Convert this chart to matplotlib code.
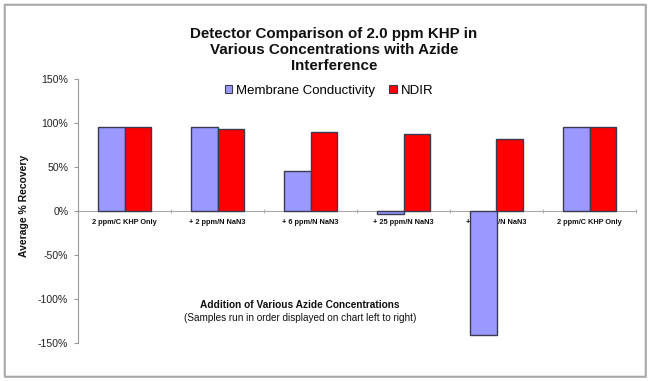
import matplotlib
matplotlib.use("Agg")
import matplotlib.pyplot as plt
from matplotlib.patches import Rectangle, Patch
from matplotlib.ticker import PercentFormatter, FixedLocator
import numpy as np

plt.rcParams['font.family'] = ['Liberation Sans', 'DejaVu Sans']
plt.rcParams['axes.unicode_minus'] = False

categories = ["2 ppm/C KHP Only", "+ 2 ppm/N NaN3", "+ 6 ppm/N NaN3",
              "+ 25 ppm/N NaN3", "+ 50 ppm/N NaN3", "2 ppm/C KHP Only"]
membrane = [95, 95, 46, -3, -141, 96]
ndir = [96, 93, 90, 88, 82, 95]
yticks = [-150, -100, -50, 0, 50, 100, 150]
title_lines = ["Detector Comparison of 2.0 ppm KHP in",
               "Various Concentrations with Azide",
               "Interference"]

W, H = 650, 381
fig = plt.figure(figsize=(W / 100, H / 100), dpi=100)

# outer frame with slight shadow
fig.add_artist(Rectangle((5 / W, 1 - 377 / H), 641 / W, 372 / H, transform=fig.transFigure,
                         facecolor='none', edgecolor='#b0b0b0', lw=1.2))
fig.add_artist(Rectangle((4 / W, 1 - 376 / H), 641 / W, 372 / H, transform=fig.transFigure,
                         facecolor='white', edgecolor='#808080', lw=1.0, zorder=0))

left, right, top, bottom = 78, 636, 79, 343
ax = fig.add_axes([left / W, 1 - bottom / H, (right - left) / W, (bottom - top) / H])
ax.set_facecolor('none')

x = np.arange(len(categories))
bw = 0.29
edge = '#3a3a50'
ax.bar(x - bw / 2, membrane, width=bw, color='#9999FF', edgecolor=edge, lw=1.0,
       label='Membrane Conductivity', zorder=3)
ax.bar(x + bw / 2, ndir, width=bw, color='#FF0000', edgecolor=edge, lw=1.0,
       label='NDIR', zorder=3)

ax.set_xlim(-0.5, len(categories) - 0.5)
ax.set_ylim(-150, 150)
ax.set_yticks(yticks)
ax.yaxis.set_major_formatter(PercentFormatter(decimals=0))
ax.tick_params(axis='y', length=3, width=0.8, color='#999999', pad=4,
               labelsize=7.6, labelcolor='#222222')

for s in ['top', 'right']:
    ax.spines[s].set_visible(False)
ax.spines['left'].set_color('#999999')
ax.spines['left'].set_linewidth(0.8)
ax.spines['bottom'].set_position(('data', 0))
ax.spines['bottom'].set_color('#a8a8a8')
ax.spines['bottom'].set_linewidth(0.8)
ax.spines['bottom'].set_zorder(1)

ax.set_xticks(x)
ax.set_xticklabels(categories, fontsize=5.3, fontweight='bold', color='#111111')
ax.tick_params(axis='x', which='major', length=0, pad=6)
ax.xaxis.set_minor_locator(FixedLocator(np.arange(-0.5, len(categories), 1.0)))
ax.tick_params(axis='x', which='minor', length=3, direction='inout', color='#b0b0b0', width=0.8)

# title (three lines)
for line, ypix in zip(title_lines, [34, 50, 66]):
    fig.text(334 / W, 1 - ypix / H, line, ha='center', va='center', fontsize=10.9,
             fontweight='bold', color='#111111')

# legend
handles = [Patch(facecolor='#9999FF', edgecolor=edge, lw=0.8, label='Membrane Conductivity'),
           Patch(facecolor='#FF0000', edgecolor=edge, lw=0.8, label='NDIR')]
fig.legend(handles=handles, loc='center', bbox_to_anchor=(329 / W, 1 - 91 / H), ncol=2,
           frameon=False, fontsize=9.5, handlelength=0.55, handleheight=0.55,
           handletextpad=0.3, columnspacing=1.1, borderpad=0, borderaxespad=0)

# y label
fig.text(24 / W, 1 - 206 / H, "Average % Recovery", rotation=90, ha='center', va='center',
         fontsize=7.5, fontweight='bold', color='#111111')

# x axis description inside plot
fig.text(300 / W, 1 - 305 / H, "Addition of Various Azide Concentrations", ha='center',
         va='center', fontsize=7.3, fontweight='bold', color='#111111')
fig.text(300 / W, 1 - 318 / H, "(Samples run in order displayed on chart left to right)",
         ha='center', va='center', fontsize=7.2, color='#111111')

fig.savefig('out.png', dpi=100)
